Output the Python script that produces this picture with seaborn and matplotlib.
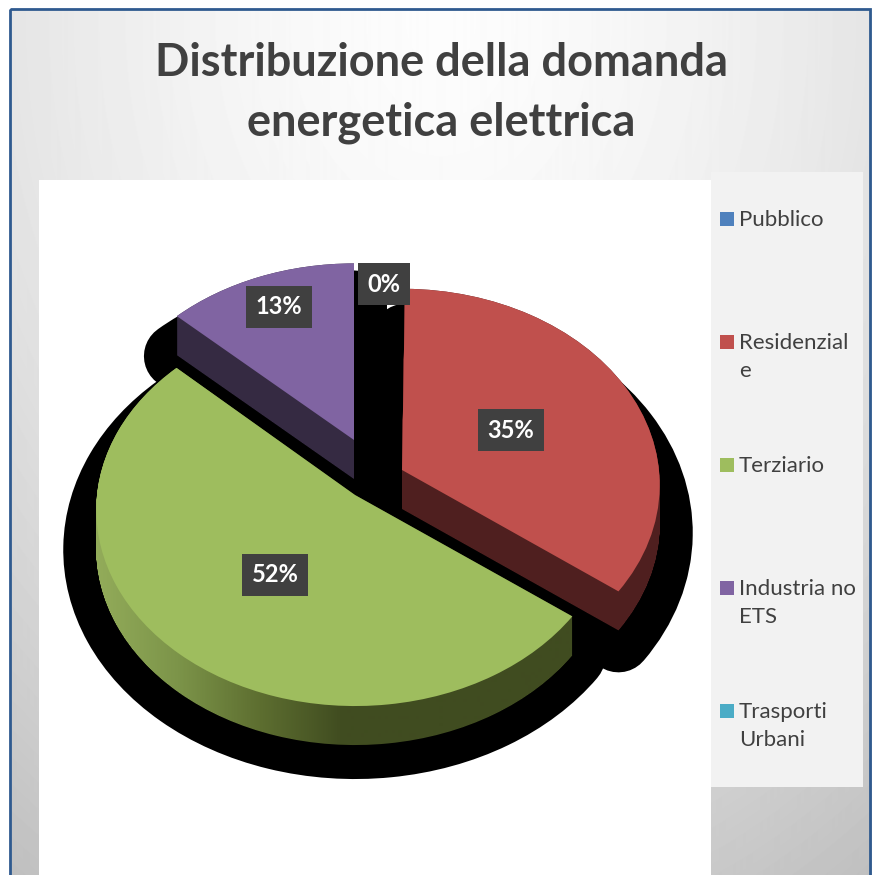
import seaborn as sns
import matplotlib.pyplot as plt
import matplotlib.transforms as mtrans
from matplotlib.path import Path
from matplotlib.patches import PathPatch, Rectangle
import numpy as np

title = "Distribuzione della domanda\nenergetica elettrica"
sectors = ["Pubblico", "Residenziale", "Terziario", "Industria no ETS", "Trasporti Urbani"]
legend_labels = ["Pubblico", "Residenzial\ne", "Terziario", "Industria no\nETS", "Trasporti\nUrbani"]
values = [0.2, 35, 52, 13, 0]
colors = ["#4f81bd", "#c0504d", "#9ebd5e", "#8064a2", "#4bacc6"]
wall_colors = ["#2c4a6e", "#4f1f1f", "#404c20", "#352a42", "#2a6070"]

# where each slice's tip ends up on the page (pixels), exploded look
tips = [(378, 470), (402, 470), (355, 495), (354, 440), (378, 470)]
half_w = [255, 257, 258, 256, 255]
half_h = [195, 195, 195, 190, 195]
label_pos = [(384, 283), (511, 429), (275, 574), (279, 306), None]
depth = 40
shadow_drop = [40, 48, 40, 40, 40]

sns.set_theme(style="white")
plt.rcParams['font.family'] = ['Lato', 'DejaVu Sans']
pal = sns.color_palette(colors)


class Tilt(mtrans.Transform):
    # flat pie -> page, with a bit of perspective
    input_dims = 2
    output_dims = 2
    is_separable = False
    has_inverse = False

    def __init__(self, x0, y0, a=255, b=195, p=0.076):
        super().__init__()
        self.x0, self.y0, self.a, self.b, self.p = x0, y0, a, b, p

    def transform_non_affine(self, xy):
        xy = np.asarray(xy)
        w = 1 + self.p * xy[:, 1]
        return np.column_stack([self.x0 + self.a * xy[:, 0] / w, self.y0 - self.b * xy[:, 1] / w])


fig = plt.figure(figsize=(8.72, 8.75), dpi=100)
ax = fig.add_axes([0, 0, 1, 1])

# slide background
gx, gy = np.meshgrid(np.arange(872), np.arange(875))
dist = np.sqrt(((gx - 440) / 800) ** 2 + ((gy - 20) / 1050) ** 2)
ax.imshow(0.99 - 0.25 * np.clip(dist, 0, 1) ** 1.6, cmap="gray", vmin=0, vmax=1,
          extent=(0, 872, 875, 0), aspect="auto", zorder=0)
ax.add_patch(Rectangle((0, 0), 872, 9, fc="white", ec="none", zorder=1))
ax.add_patch(Rectangle((0, 0), 10, 875, fc="white", ec="none", zorder=1))
ax.add_patch(Rectangle((10, 9), 860, 900, fc="none", ec="#2f5a8f", lw=2, zorder=1))
ax.add_patch(Rectangle((39, 180), 672, 700, fc="white", ec="none", zorder=2))
ax.add_patch(Rectangle((711, 172), 152, 615, fc="#f2f2f2", ec="none", zorder=2))

wedges, _ = ax.pie(values, colors=pal, startangle=90, counterclock=False, radius=1, frame=False)
ax.set_aspect("auto")
ax.axis("off")

for i, wd in enumerate(wedges):
    if values[i] < 1:
        wd.set_visible(False)
        continue
    path = wd.get_path()
    tilt = Tilt(tips[i][0], tips[i][1], half_w[i], half_h[i])
    wd.set_transform(mtrans.CompositeGenericTransform(wd.get_patch_transform() + tilt, ax.transData))
    wd.set_zorder(8)
    wd.set_edgecolor("none")

    flat = (wd.get_patch_transform() + tilt).transform_path(path)

    # black shadow under the slice
    shadow = Path(flat.vertices + [0, shadow_drop[i]], flat.codes)
    ax.add_patch(PathPatch(shadow, fc="black", ec="black", lw=47.5, joinstyle="round", zorder=3))

    # side wall, stacked copies of the top face
    stack = Path.make_compound_path(*[Path(flat.vertices + [0, d], flat.codes) for d in range(0, depth, 1)])
    if sectors[i] == "Terziario":
        ramp = sns.blend_palette(["#93ac5a", "#7c9449", "#5d6e30", "#404c20", "#404c20"], as_cmap=True)
        grad = np.linspace(0, 1, 872).reshape(1, -1)
        grad = np.clip((grad * 872 - 95) / 330, 0, 1)
        im = ax.imshow(grad, cmap=ramp, vmin=0, vmax=1, extent=(0, 872, 875, 0), aspect="auto", zorder=5)
        im.set_clip_path(PathPatch(stack, transform=ax.transData))
    else:
        ax.add_patch(PathPatch(stack, fc=wall_colors[i], ec="none", zorder=5))

# imshow resets limits
ax.set_xlim(0, 872)
ax.set_ylim(875, 0)

for i, pos in enumerate(label_pos):
    if pos is None:
        continue
    ax.text(pos[0], pos[1] + 1, f"{values[i]:.0f}%", color="white", fontsize=17, fontweight="bold",
            ha="center", va="center", zorder=10,
            bbox=dict(boxstyle="square,pad=0.4", fc="#404040", ec="none"))

ax.text(441, 93, title, color="#404040", fontsize=32.5, fontweight="bold", ha="center", va="center",
        linespacing=1.53, zorder=10)

for i, lab in enumerate(legend_labels):
    y = 219 + 123 * i
    ax.add_patch(Rectangle((720, y - 7), 14, 14, fc=pal[i], ec="none", zorder=10))
    ax.text(739, y - 9, lab, color="#404040", fontsize=16, ha="left", va="top", linespacing=1.5, zorder=10)

fig.savefig("out.png", dpi=100)
